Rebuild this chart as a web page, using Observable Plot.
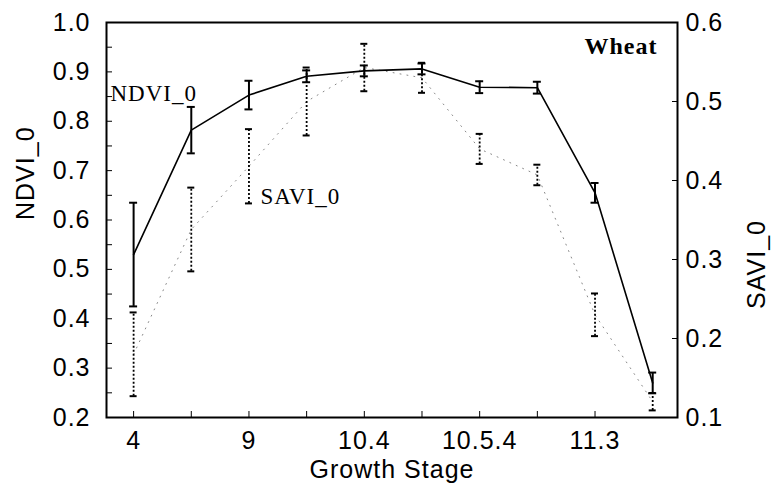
<!DOCTYPE html>
<html><head><meta charset="utf-8">
<script src="https://cdn.jsdelivr.net/npm/d3@7"></script>
<script src="https://cdn.jsdelivr.net/npm/@observablehq/plot@0.6"></script>
<style>
body{margin:0;background:#fff;}
svg text{letter-spacing:1px;}
</style></head><body><div id="chart"></div>
<script>
// Growth stage positions (index) and tick labels
const stageIndex = [0, 1, 2, 3, 4, 5, 6, 7, 8, 9];
const stageTickIndex = [0, 1, 2, 3, 4, 5, 6, 7, 8];
const stageTickLabels = ["4", "", "9", "", "10.4", "", "10.5.4", "", "11.3"];
// NDVI_0 (left axis) mean and half error
const ndviMean = [0.53, 0.782, 0.853, 0.891, 0.902, 0.906, 0.869, 0.868, 0.655, 0.27];
const ndviErr  = [0.105, 0.047, 0.029, 0.012, 0.011, 0.011, 0.012, 0.012, 0.02, 0.021];
// SAVI_0 (right axis) mean and half error
const saviMean = [0.18, 0.338, 0.418, 0.50, 0.543, 0.53, 0.44, 0.407, 0.23, 0.12];
const saviErr  = [0.053, 0.053, 0.047, 0.043, 0.03, 0.019, 0.019, 0.013, 0.027, 0.011];
// axis ticks
const ndviTicks = [0.2, 0.3, 0.4, 0.5, 0.6, 0.7, 0.8, 0.9, 1.0];
const ndviMinorTicks = [0.2, 0.25, 0.3, 0.35, 0.4, 0.45, 0.5, 0.55, 0.6, 0.65, 0.7, 0.75, 0.8, 0.85, 0.9, 0.95, 1.0];
const saviTicks = [0.1, 0.2, 0.3, 0.4, 0.5, 0.6];
const ndviDomain = [0.2, 1.0];
const saviDomain = [0.1, 0.6];

// map SAVI values onto the NDVI (left) scale
const k = (ndviDomain[1] - ndviDomain[0]) / (saviDomain[1] - saviDomain[0]);
const toL = s => ndviDomain[0] + (s - saviDomain[0]) * k;
const fromL = v => saviDomain[0] + (v - ndviDomain[0]) / k;

const rows = stageIndex.map((i, j) => ({
  i,
  n: ndviMean[j], nLo: ndviMean[j] - ndviErr[j], nHi: ndviMean[j] + ndviErr[j],
  s: toL(saviMean[j]), sLo: toL(saviMean[j] - saviErr[j]), sHi: toL(saviMean[j] + saviErr[j])
}));

const sans = "'Liberation Sans', Arial, Helvetica, sans-serif";
const serif = "'Liberation Serif', 'Times New Roman', serif";

const chart = Plot.plot({
  width: 775, height: 484,
  marginLeft: 106, marginRight: 98, marginTop: 22, marginBottom: 67,
  style: {fontFamily: sans, fontSize: "25px", color: "black", background: "white"},
  x: {domain: [-0.47, 9.43]},
  y: {domain: ndviDomain},
  marks: [
    // SAVI dotted series
    Plot.line(rows, {x: "i", y: "s", stroke: "#888", strokeWidth: 1, strokeDasharray: "1,6"}),
    Plot.ruleX(rows, {x: "i", y1: "sLo", y2: "sHi", stroke: "black", strokeWidth: 1.8, strokeDasharray: "2,2"}),
    Plot.ruleY(rows, {x1: "i", x2: "i", y: "sLo", insetLeft: -3.5, insetRight: -3.5, stroke: "black", strokeWidth: 2}),
    Plot.ruleY(rows, {x1: "i", x2: "i", y: "sHi", insetLeft: -3.5, insetRight: -3.5, stroke: "black", strokeWidth: 2}),
    // NDVI solid series
    Plot.line(rows, {x: "i", y: "n", stroke: "black", strokeWidth: 1.6}),
    Plot.ruleX(rows, {x: "i", y1: "nLo", y2: "nHi", stroke: "black", strokeWidth: 2}),
    Plot.ruleY(rows, {x1: "i", x2: "i", y: "nLo", insetLeft: -4, insetRight: -4, stroke: "black", strokeWidth: 2}),
    Plot.ruleY(rows, {x1: "i", x2: "i", y: "nHi", insetLeft: -4, insetRight: -4, stroke: "black", strokeWidth: 2}),
    // frame and axes
    Plot.frame({stroke: "black", strokeWidth: 2}),
    Plot.axisY(ndviMinorTicks, {anchor: "left", tickSize: -6, tickFormat: () => "", label: null}),
    Plot.axisY(ndviTicks, {anchor: "left", tickSize: 0, tickPadding: 16, tickFormat: d => d.toFixed(1), label: null}),
    Plot.axisY(saviTicks.map(toL), {anchor: "right", tickSize: -6, tickPadding: 14, tickFormat: d => fromL(d).toFixed(1), label: null}),
    Plot.axisX(stageTickIndex, {anchor: "bottom", tickSize: -6, tickPadding: 20, tickFormat: i => stageTickLabels[i], label: null}),
    // axis titles
    Plot.text(["Growth Stage"], {frameAnchor: "bottom", dy: 60, lineAnchor: "bottom", fontSize: 25}),
    Plot.text(["NDVI_0"], {frameAnchor: "left", dx: -81, rotate: -90, fontSize: 25}),
    Plot.text(["SAVI_0"], {frameAnchor: "right", dx: 79, rotate: -90, fontSize: 25}),
    // annotations
    Plot.text(["NDVI_0"], {frameAnchor: "top-left", dx: 4, dy: 78, textAnchor: "start", lineAnchor: "bottom", fontFamily: serif, fontSize: 23}),
    Plot.text(["SAVI_0"], {frameAnchor: "top-left", dx: 154, dy: 181, textAnchor: "start", lineAnchor: "bottom", fontFamily: serif, fontSize: 23}),
    Plot.text(["Wheat"], {frameAnchor: "top-right", dx: -20, dy: 31, textAnchor: "end", lineAnchor: "bottom", fontFamily: serif, fontSize: 24, fontWeight: "bold"})
  ]
});
document.getElementById("chart").appendChild(chart);
</script>
</body></html>
